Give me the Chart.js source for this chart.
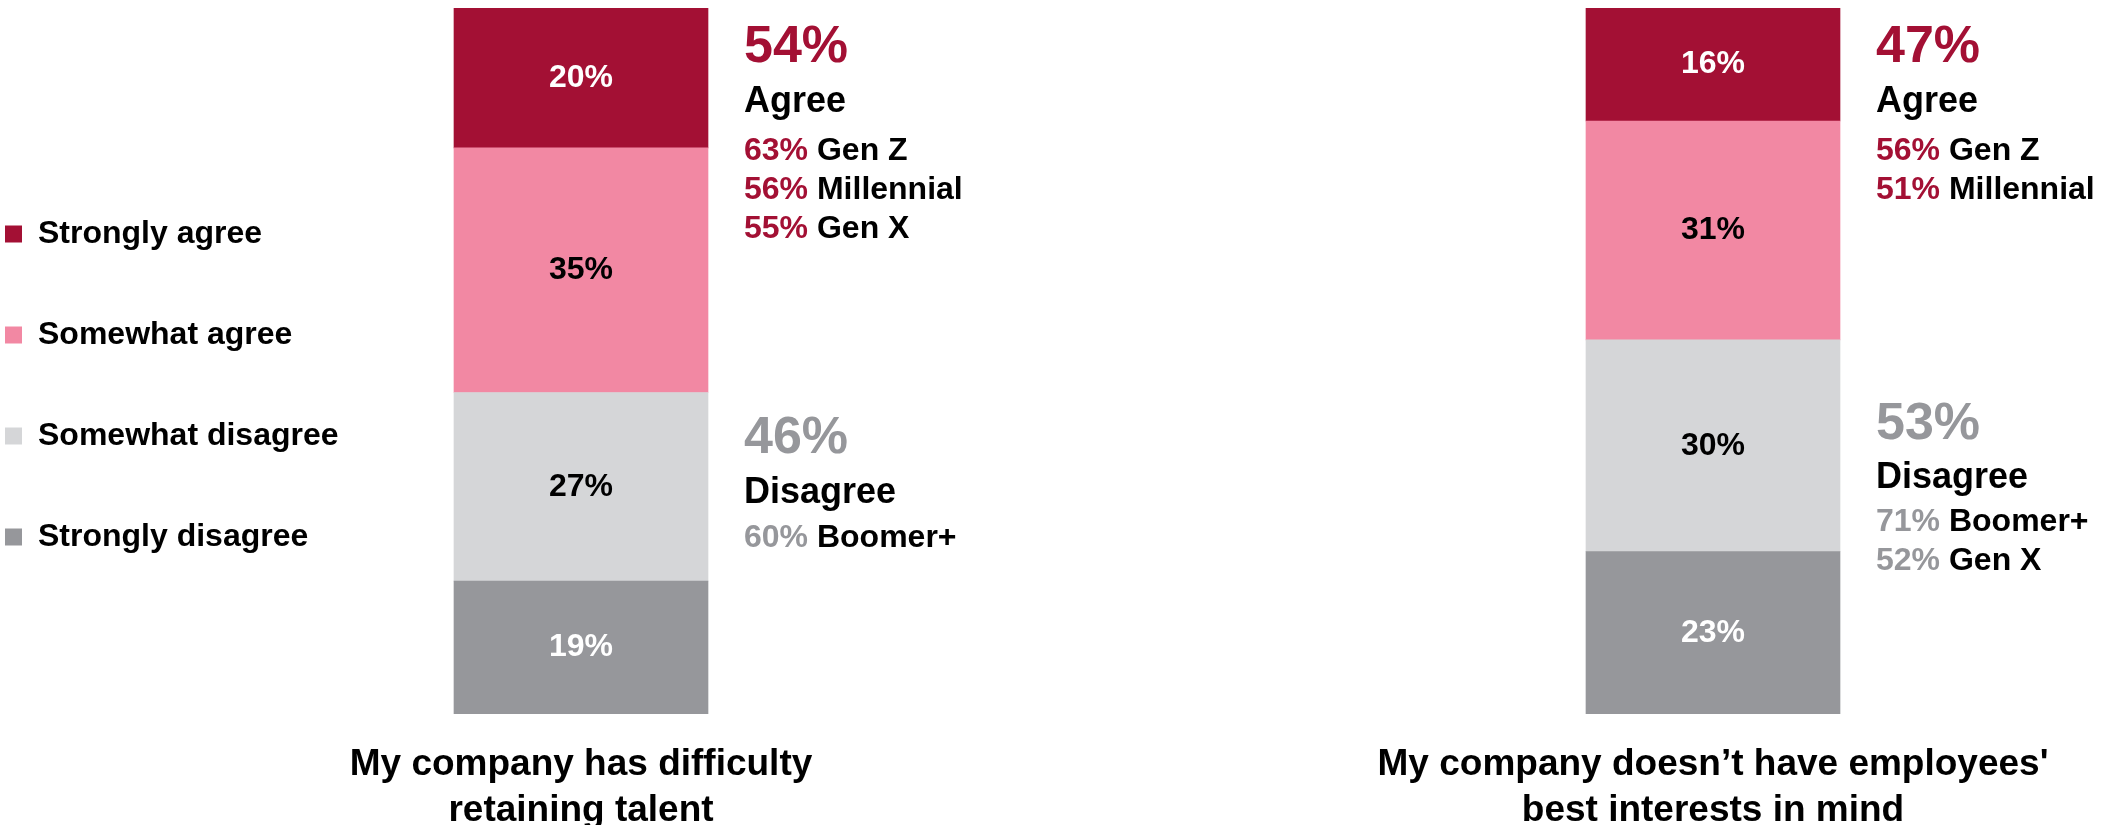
<!DOCTYPE html>
<html>
<head>
<meta charset="utf-8">
<script src="https://cdn.jsdelivr.net/npm/chart.js@4.4.1/dist/chart.umd.min.js"></script>
<style>
  html, body { margin: 0; padding: 0; background: #fff; overflow: hidden; }
  body { width: 2108px; height: 825px; position: relative; }
  .panel { position: absolute; top: 0; height: 862px; }
  #panelA { left: -64px; width: 1120px; }
  #panelB { left: 1054px; width: 1054px; }
</style>
</head>
<body>
<div class="panel" id="panelA"><canvas id="chartA"></canvas></div>
<div class="panel" id="panelB"><canvas id="chartB"></canvas></div>
<script>
const FONT = 'Arial, "Liberation Sans", Helvetica, sans-serif'
const RED = '#a31034'
const GREY = '#96979b'

// segments, top of the bar first
const segmentLabels = ['Strongly agree', 'Somewhat agree', 'Somewhat disagree', 'Strongly disagree']
const segmentColors = ['#a31034', '#f288a3', '#d5d6d8', '#96979b']
const valueColors = ['#ffffff', '#000000', '#000000', '#ffffff']

// left question
const questionA = ['My company has difficulty', 'retaining talent']
const valuesA = [20, 35, 27, 19]
const agreeTotalA = '54%'
const disagreeTotalA = '46%'
const agreeGensA = [['63%', 'Gen Z'], ['56%', 'Millennial'], ['55%', 'Gen X']]
const disagreeGensA = [['60%', 'Boomer+']]

// right question
const questionB = ['My company doesn\u2019t have employees\'', 'best interests in mind']
const valuesB = [16, 31, 30, 23]
const agreeTotalB = '47%'
const disagreeTotalB = '53%'
const agreeGensB = [['56%', 'Gen Z'], ['51%', 'Millennial']]
const disagreeGensB = [['71%', 'Boomer+'], ['52%', 'Gen X']]

// percentage printed in the middle of each segment
const segmentValues = {
  id: 'segmentValues',
  afterDatasetsDraw(chart) {
    const { ctx } = chart
    ctx.save()
    ctx.font = 'bold 32px ' + FONT
    ctx.textAlign = 'center'
    ctx.textBaseline = 'middle'
    chart.data.datasets.forEach((ds, i) => {
      const bar = chart.getDatasetMeta(i).data[0]
      ctx.fillStyle = ds.valueColor
      ctx.fillText(ds.data[0] + '%', bar.x, (bar.y + bar.base) / 2)
    })
    ctx.restore()
  }
}

// agree / disagree summary to the right of the bar
const sideNotes = {
  id: 'sideNotes',
  afterDraw(chart, args, opts) {
    const { ctx } = chart
    const bar = chart.getDatasetMeta(0).data[0]
    const x = bar.x + bar.width / 2 + 36
    ctx.save()
    ctx.textAlign = 'left'
    ctx.textBaseline = 'alphabetic'
    opts.blocks.forEach(b => {
      let y = b.y
      ctx.font = 'bold 52px ' + FONT
      ctx.fillStyle = b.color
      ctx.fillText(b.total, x, y)
      y += b.steps[0]
      ctx.font = 'bold 36px ' + FONT
      ctx.fillStyle = '#000'
      ctx.fillText(b.label, x, y)
      y += b.steps[1]
      ctx.font = 'bold 32px ' + FONT
      b.rows.forEach((r, i) => {
        if (i) y += b.steps[2]
        ctx.fillStyle = b.color
        ctx.fillText(r[0], x, y)
        const w = ctx.measureText(r[0] + ' ').width
        ctx.fillStyle = '#000'
        ctx.fillText(r[1], x + w, y)
      })
    })
    ctx.restore()
  }
}

function makeChart(id, question, values, notes, showLegend, pad) {
  // Chart.js stacks the first dataset at the bottom, so build them bottom-up
  const datasets = segmentLabels.map((label, i) => ({
    label: label,
    data: [values[i]],
    backgroundColor: segmentColors[i],
    borderColor: segmentColors[i],
    borderWidth: 0,
    barThickness: 254,
    valueColor: valueColors[i]
  })).reverse()

  const total = values.reduce((a, b) => a + b, 0)

  return new Chart(document.getElementById(id), {
    type: 'bar',
    data: { labels: [question], datasets: datasets },
    plugins: [segmentValues, sideNotes],
    options: {
      responsive: true,
      maintainAspectRatio: false,
      animation: false,
      events: [],
      layout: { padding: { top: 8, bottom: 0, left: pad.left, right: pad.right } },
      plugins: {
        tooltip: { enabled: false },
        legend: showLegend ? {
          position: 'left',
          align: 'center',
          fullSize: false,
          maxWidth: 405,
          reverse: true,
          // empty title only pushes the items down a little
          title: { display: true, text: '', padding: 0, font: { size: 49, lineHeight: 1 } },
          labels: {
            boxWidth: 17,
            boxHeight: 17,
            padding: 69,
            color: '#000',
            font: { family: FONT, size: 32, weight: 'bold' }
          }
        } : { display: false },
        sideNotes: { blocks: notes }
      },
      scales: {
        x: {
          stacked: true,
          grid: { display: false, drawTicks: false },
          border: { display: false },
          ticks: {
            color: '#000',
            padding: 28,
            maxRotation: 0,
            autoSkip: false,
            font: { family: FONT, size: 37, weight: 'bold', lineHeight: '46px' }
          }
        },
        y: { stacked: true, display: false, min: 0, max: total }
      }
    }
  })
}

makeChart('chartA', questionA, valuesA, [
  { y: 62, color: RED, total: agreeTotalA, label: 'Agree', rows: agreeGensA, steps: [50, 48, 39] },
  { y: 453, color: GREY, total: disagreeTotalA, label: 'Disagree', rows: disagreeGensA, steps: [50, 44, 39] }
], true, { left: 0, right: 235 })

makeChart('chartB', questionB, valuesB, [
  { y: 62, color: RED, total: agreeTotalB, label: 'Agree', rows: agreeGensB, steps: [50, 48, 39] },
  { y: 439, color: GREY, total: disagreeTotalB, label: 'Disagree', rows: disagreeGensB, steps: [49, 43, 39] }
], false, { left: 314, right: 50 })
</script>
</body>
</html>
